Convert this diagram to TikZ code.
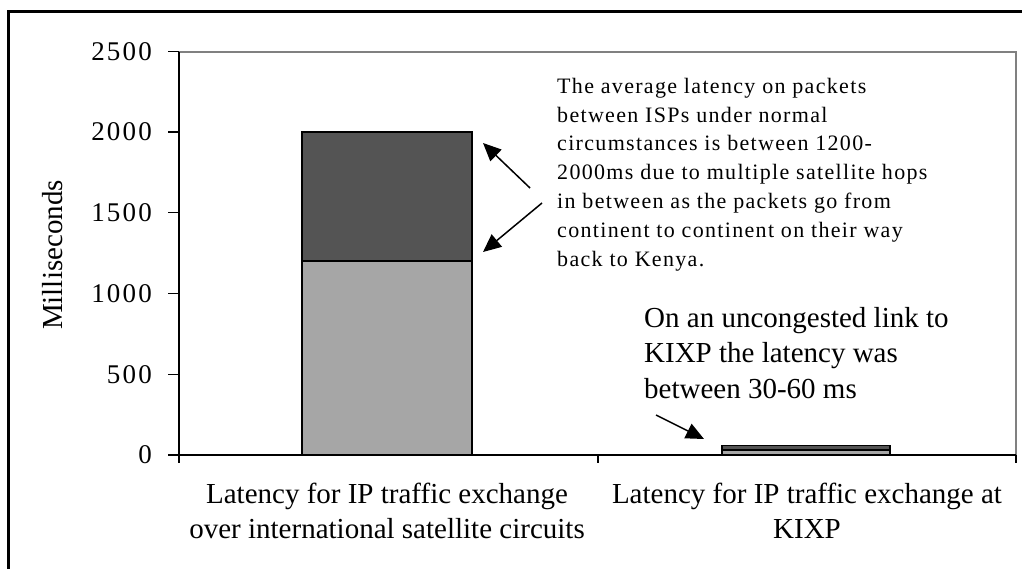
\documentclass[tikz,border=0pt]{standalone}
\usepackage{fontspec}
\setmainfont{Liberation Serif}
\newfontfamily\annfont[LetterSpace=6]{Liberation Serif}
\newfontfamily\tickfont[LetterSpace=8]{Liberation Serif}
\usetikzlibrary{arrows.meta}
\begin{document}
\begin{tikzpicture}[x=1pt,y=-1pt,
  big/.style={font=\fontsize{29}{35}\selectfont, inner sep=0pt},
  ticklbl/.style={font=\tickfont\fontsize{27}{33}\selectfont, inner sep=0pt, anchor=east},
  ann/.style={font=\annfont\fontsize{22}{28}\selectfont, inner sep=0pt, anchor=base west},
  frameline/.style={draw=black!50, line width=1.5pt},
  axisline/.style={draw=black, line width=1.3pt},
  darkbar/.style={fill=black!67, draw=black, line width=1.5pt},
  lightbar/.style={fill=black!35, draw=black, line width=1.5pt},
  pointer/.style={draw=black, line width=1.5pt, -{Triangle[length=18pt,width=16pt]}}
]
\useasboundingbox (0,0) rectangle (1022,568);
\fill[white] (0,0) rectangle (1022,568);
\begin{scope}
  \clip (0,0) rectangle (1022,568);
  \draw[line width=3pt] (8,600) -- (8,11) -- (1060,11);
\end{scope}
% plot area top and right
\draw[frameline] (179,52) -- (1016,52) -- (1016,455);
% bars
\draw[lightbar] (302,455) rectangle (472,261.2);
\draw[darkbar] (302,261.2) rectangle (472,132);
\draw[lightbar] (722,455) rectangle (890,450.2);
\draw[darkbar] (722,450.2) rectangle (890,445.3);
% axes
\draw[axisline] (179,52) -- (179,463);
\draw[axisline] (168,455) -- (1016,455);
\foreach \x in {598,1016} \draw[axisline] (\x,455) -- (\x,463);
\foreach \v/\lab in {0/0,1/500,2/1000,3/1500,4/2000,5/2500} {
  \draw[axisline] (168,{455-80.75*\v}) -- (179,{455-80.75*\v});
  \node[ticklbl] (tick\v) at (152,{455-80.75*\v}) {\lab};
}
% axis title
\node[big, rotate=90, anchor=base] (ytitle) at (62,255) {Milliseconds};
% category labels
\node[big, anchor=base] (cat1a) at (387,503) {Latency for IP traffic exchange};
\node[big, anchor=base] (cat1b) at (387,538) {over international satellite circuits};
\node[big, anchor=base] (cat2a) at (807,503) {Latency for IP traffic exchange at};
\node[big, anchor=base] (cat2b) at (807,538) {KIXP};
% annotation 1
\foreach \t [count=\i] in {The average latency on packets,
  between ISPs under normal,
  circumstances is between 1200-,
  2000ms due to multiple satellite hops,
  in between as the packets go from,
  continent to continent on their way,
  back to Kenya.} {
  \node[ann] (annA\i) at (557,{93.3+28.8*(\i-1)}) {\t};
}
% annotation 2
\foreach \t [count=\i] in {On an uncongested link to,
  KIXP the latency was,
  between 30-60 ms} {
  \node[big, anchor=base west] (annB\i) at (644,{327+35.5*(\i-1)}) {\t};
}
% arrows
\coordinate (p1s) at (530,188);
\coordinate (p1e) at (483,143);
\coordinate (p2s) at (542,203);
\coordinate (p2e) at (483,252);
\coordinate (p3s) at (656,415);
\coordinate (p3e) at (704,439);
\draw[pointer] (p1s) -- (p1e);
\draw[pointer] (p2s) -- (p2e);
\draw[pointer] (p3s) -- (p3e);
\end{tikzpicture}
\end{document}
